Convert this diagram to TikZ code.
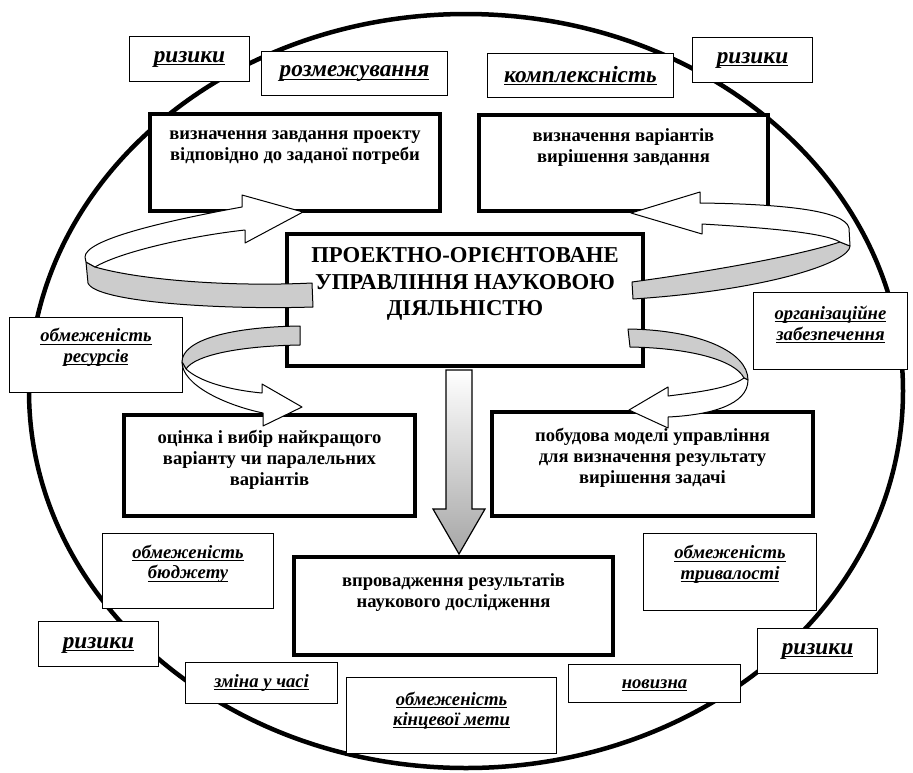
\documentclass[tikz,border=0pt]{standalone}
\usepackage{fontspec}
\setmainfont{Liberation Serif}
\newcommand{\uln}[1]{\setbox0\hbox{#1}\rlap{\copy0}\rule[-2.8pt]{\wd0}{1.2pt}}

\begin{document}
\begin{tikzpicture}
[every node/.style={inner sep=0pt},
 mainbox/.style={rectangle, draw=black, line width=4pt, fill=white},
 tagbox/.style={rectangle, draw=black, line width=1.6pt, fill=white},
 maintext/.style={align=center, font=\fontsize{18.6}{21}\selectfont\bfseries},
 coretext/.style={align=center, font=\fontsize{22.7}{26.5}\selectfont\bfseries},
 tagtext/.style={align=center, font=\fontsize{18.7}{20.5}\selectfont\bfseries\itshape},
 tagbig/.style={align=center, font=\fontsize{23.3}{26}\selectfont\bfseries\itshape},
 ribbon/.style={draw=black, line width=1pt, line join=round}]
\useasboundingbox (0pt, 0pt) rectangle (913pt, -772pt);
\draw [line width=4.5pt] (466pt, -391pt) ellipse [x radius=437pt, y radius=377pt];
% main blocks
\node (task) [mainbox, minimum width=290pt, minimum height=97pt] at (295.0pt, -162.5pt) {};
\node (var) [mainbox, minimum width=289pt, minimum height=96pt] at (623.5pt, -163.0pt) {};
\node (core) [mainbox, minimum width=356pt, minimum height=132pt] at (465.0pt, -300.0pt) {};
\node (choice) [mainbox, minimum width=291pt, minimum height=101pt] at (269.5pt, -465.5pt) {};
\node (model) [mainbox, minimum width=321pt, minimum height=104pt] at (652.5pt, -464.0pt) {};
\node (impl) [mainbox, minimum width=319pt, minimum height=98pt] at (453.5pt, -606.0pt) {};
\node (tasktext) [maintext] at (295.0pt, -148.0pt) {визначення завдання проекту\\відповідно до заданої потреби};
\node (vartext) [maintext] at (623.5pt, -148.0pt) {визначення варіантів\\вирішення завдання};
\node (coretext) [coretext] at (465.0pt, -284.0pt) {ПРОЕКТНО-ОРІЄНТОВАНЕ\\УПРАВЛІННЯ НАУКОВОЮ\\ДІЯЛЬНІСТЮ};
\node (choicetext) [maintext] at (269.5pt, -459.5pt) {оцінка і вибір найкращого\\варіанту чи паралельних\\варіантів};
\node (modeltext) [maintext] at (652.5pt, -457.5pt) {побудова моделі управління\\для визначення результату\\вирішення задачі};
\node (impltext) [maintext] at (453.5pt, -593.0pt) {впровадження результатів\\наукового дослідження};
% factor labels
\node (risk1) [tagbox, minimum width=120pt, minimum height=45pt] at (189.5pt, -59.0pt) {};
\node (sep) [tagbox, minimum width=186pt, minimum height=44pt] at (354.5pt, -73.5pt) {};
\node (compl) [tagbox, minimum width=186pt, minimum height=44pt] at (580.5pt, -75.5pt) {};
\node (risk2) [tagbox, minimum width=120pt, minimum height=45pt] at (752.5pt, -60.0pt) {};
\node (res) [tagbox, minimum width=173pt, minimum height=75pt] at (96.0pt, -355.0pt) {};
\node (org) [tagbox, minimum width=154pt, minimum height=77pt] at (830.5pt, -331.0pt) {};
\node (budget) [tagbox, minimum width=171pt, minimum height=75pt] at (188.0pt, -571.0pt) {};
\node (dur) [tagbox, minimum width=173pt, minimum height=77pt] at (730.0pt, -572.0pt) {};
\node (risk3) [tagbox, minimum width=120pt, minimum height=45pt] at (98.5pt, -644.0pt) {};
\node (time) [tagbox, minimum width=152pt, minimum height=41pt] at (261.5pt, -683.0pt) {};
\node (goal) [tagbox, minimum width=210pt, minimum height=76pt] at (451.5pt, -715.5pt) {};
\node (novelty) [tagbox, minimum width=172pt, minimum height=38pt] at (654.5pt, -683.5pt) {};
\node (risk4) [tagbox, minimum width=120pt, minimum height=45pt] at (817.5pt, -651.0pt) {};
\node (risk1text) [tagbig] at (189.5pt, -59.0pt) {\uln{ризики}};
\node (septext) [tagbig] at (354.5pt, -74.0pt) {\uln{розмежування}};
\node (compltext) [tagbig] at (580.5pt, -76.0pt) {\uln{комплексність}};
\node (risk2text) [tagbig] at (752.5pt, -60.0pt) {\uln{ризики}};
\node (restext) [tagtext] at (96.0pt, -347.5pt) {\uln{обмеженість}\\\uln{ресурсів}};
\node (orgtext) [tagtext] at (830.5pt, -324.5pt) {\uln{організаційне}\\\uln{забезпечення}};
\node (budgettext) [tagtext] at (188.0pt, -564.0pt) {\uln{обмеженість}\\\uln{бюджету}};
\node (durtext) [tagtext] at (730.0pt, -564.5pt) {\uln{обмеженість}\\\uln{тривалості}};
\node (risk3text) [tagbig] at (98.5pt, -645.0pt) {\uln{ризики}};
\node (timetext) [tagtext] at (261.5pt, -683.0pt) {\uln{зміна у часі}};
\node (goaltext) [tagtext] at (451.5pt, -710.5pt) {\uln{обмеженість}\\\uln{кінцевої мети}};
\node (noveltytext) [tagtext] at (654.5pt, -685.0pt) {\uln{новизна}};
\node (risk4text) [tagbig] at (817.5pt, -651.0pt) {\uln{ризики}};
% down arrow
\draw [line width=1.2pt, top color=white, bottom color=black!35] (446pt, -370pt) -- (472pt, -370pt) -- (472pt, -509pt) -- (485pt, -509pt) -- (459pt, -554pt) -- (433pt, -509pt) -- (446pt, -509pt) -- cycle;
% curved ribbons
\filldraw [ribbon, fill=black!20] (312pt, -283pt) .. controls (230pt, -287pt) and (140pt, -280pt) .. (95pt, -267pt) -- (86pt, -262pt) -- (88pt, -283pt) .. controls (95pt, -302pt) and (220pt, -310pt) .. (313pt, -307pt) -- cycle;
\filldraw [ribbon, fill=white] (95pt, -267pt) -- (86pt, -262pt) -- (85pt, -257pt) .. controls (85pt, -240pt) and (160pt, -222pt) .. (242pt, -207pt) -- (242pt, -195pt) -- (303pt, -212pt) -- (245pt, -243pt) -- (245pt, -230pt) .. controls (190pt, -236pt) and (120pt, -252pt) .. (95pt, -267pt) -- cycle;
\filldraw [ribbon, fill=black!20] (300pt, -326pt) .. controls (230pt, -327pt) and (182pt, -340pt) .. (182pt, -362pt) -- (186pt, -369pt) .. controls (195pt, -355pt) and (240pt, -346pt) .. (300pt, -345pt) -- cycle;
\filldraw [ribbon, fill=white] (186pt, -369pt) -- (182pt, -362pt) .. controls (182pt, -385pt) and (225pt, -405pt) .. (263pt, -413pt) -- (263pt, -426pt) -- (302pt, -407pt) -- (262pt, -384pt) -- (262pt, -393pt) .. controls (230pt, -390pt) and (200pt, -382pt) .. (186pt, -369pt) -- cycle;
\filldraw [ribbon, fill=black!20] (632pt, -282pt) .. controls (720pt, -270pt) and (800pt, -255pt) .. (840pt, -242pt) -- (850pt, -246pt) .. controls (850pt, -262pt) and (770pt, -290pt) .. (633pt, -299pt) -- cycle;
\filldraw [ribbon, fill=white] (840pt, -242pt) -- (850pt, -246pt) -- (849pt, -228pt) .. controls (845pt, -210pt) and (780pt, -204pt) .. (700pt, -203pt) -- (700pt, -192pt) -- (631pt, -213pt) -- (702pt, -234pt) -- (702pt, -224pt) .. controls (770pt, -228pt) and (825pt, -233pt) .. (840pt, -242pt) -- cycle;
\filldraw [ribbon, fill=black!20] (628pt, -329pt) .. controls (700pt, -330pt) and (748pt, -352pt) .. (748pt, -380pt) -- (744pt, -378pt) .. controls (735pt, -360pt) and (690pt, -348pt) .. (630pt, -347pt) -- cycle;
\filldraw [ribbon, fill=white] (744pt, -378pt) -- (748pt, -380pt) .. controls (748pt, -405pt) and (710pt, -415pt) .. (668pt, -417pt) -- (668pt, -428pt) -- (629pt, -410pt) -- (668pt, -387pt) -- (668pt, -396pt) .. controls (700pt, -392pt) and (730pt, -388pt) .. (744pt, -378pt) -- cycle;
\end{tikzpicture}
\end{document}
